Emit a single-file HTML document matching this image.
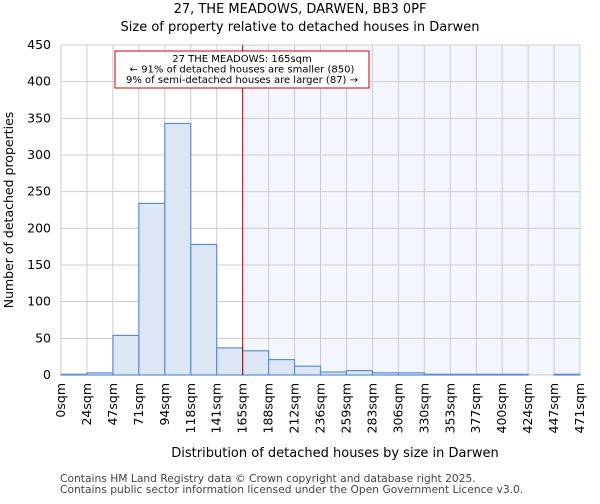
<!DOCTYPE html>
<html><head><meta charset="utf-8"><style>
body{margin:0;background:#fff;font-family:"DejaVu Sans","Liberation Sans",sans-serif}
</style></head><body>
<svg id="c" width="600" height="500" xmlns="http://www.w3.org/2000/svg" font-family="DejaVu Sans, Liberation Sans, sans-serif">
<text x="300" y="13" font-size="13" text-anchor="middle">27, THE MEADOWS, DARWEN, BB3 0PF</text>
<text x="300" y="31" font-size="13" text-anchor="middle">Size of property relative to detached houses in Darwen</text>
<g id="plot"></g>
<text x="335" y="457" font-size="13" text-anchor="middle">Distribution of detached houses by size in Darwen</text>
<text transform="translate(13,210) rotate(-90)" font-size="12.5" text-anchor="middle">Number of detached properties</text>
<text x="60" y="482" font-size="10.7" fill="#444">Contains HM Land Registry data © Crown copyright and database right 2025.</text>
<text x="60" y="493" font-size="10.7" fill="#444">Contains public sector information licensed under the Open Government Licence v3.0.</text>
</svg>
<script>
const categories=["0sqm","24sqm","47sqm","71sqm","94sqm","118sqm","141sqm","165sqm","188sqm","212sqm","236sqm","259sqm","283sqm","306sqm","330sqm","353sqm","377sqm","400sqm","424sqm","447sqm","471sqm"];
const counts=[1,3,54,234,343,178,37,33,21,12,4,6,3,3,1,1,1,1,0,1];
const yTicks=[0,50,100,150,200,250,300,350,400,450];
const markerBin=7;
const NS="http://www.w3.org/2000/svg";
const X0=61,X1=580,Y0=375,Y1=45,YMAX=450;
const bw=(X1-X0)/counts.length;
const x=i=>X0+i*bw, y=v=>Y0-(v/YMAX)*(Y0-Y1);
const g=document.getElementById('plot');
function mk(t,a){const e=document.createElementNS(NS,t);for(const k in a)e.setAttribute(k,a[k]);g.appendChild(e);return e;}
let e=mk('rect',{x:x(markerBin),y:Y1,width:X1-x(markerBin),height:Y0-Y1,fill:'#f3f6fd'});


for(let i=0;i<=counts.length;i++){e=mk('line',{x1:x(i),x2:x(i),y1:Y1,y2:Y0,stroke:'#ccc','stroke-width':1});

}
yTicks.forEach(v=>{e=mk('line',{x1:X0,x2:X1,y1:y(v),y2:y(v),stroke:'#ccc','stroke-width':1});


e=mk('text',{x:X0-10,y:y(v)+4,'font-size':12.5,'text-anchor':'end'});e.textContent=v;

});
counts.forEach((v,i)=>{if(v<=0)return;e=mk('rect',{x:x(i),y:y(v),width:bw,height:Y0-y(v),fill:'#dce6f4',stroke:'#5a8fd6','stroke-width':1.2});

});
categories.forEach((c,i)=>{e=mk('text',{transform:`translate(${x(i)+4},${Y0+8}) rotate(-90)`,'font-size':12.5,'text-anchor':'end'});e.textContent=c;

});
e=mk('line',{x1:x(markerBin),x2:x(markerBin),y1:Y1,y2:Y0,stroke:'#c00','stroke-width':1});


e=mk('rect',{x:115,y:51,width:254,height:37,fill:'#fff',stroke:'#c00','stroke-width':1});


["27 THE MEADOWS: 165sqm","← 91% of detached houses are smaller (850)","9% of semi-detached houses are larger (87) →"].forEach((t,i)=>{e=mk('text',{x:242,y:62+i*10.5,'font-size':10,'text-anchor':'middle'});e.textContent=t;

});
</script>
</body></html>
